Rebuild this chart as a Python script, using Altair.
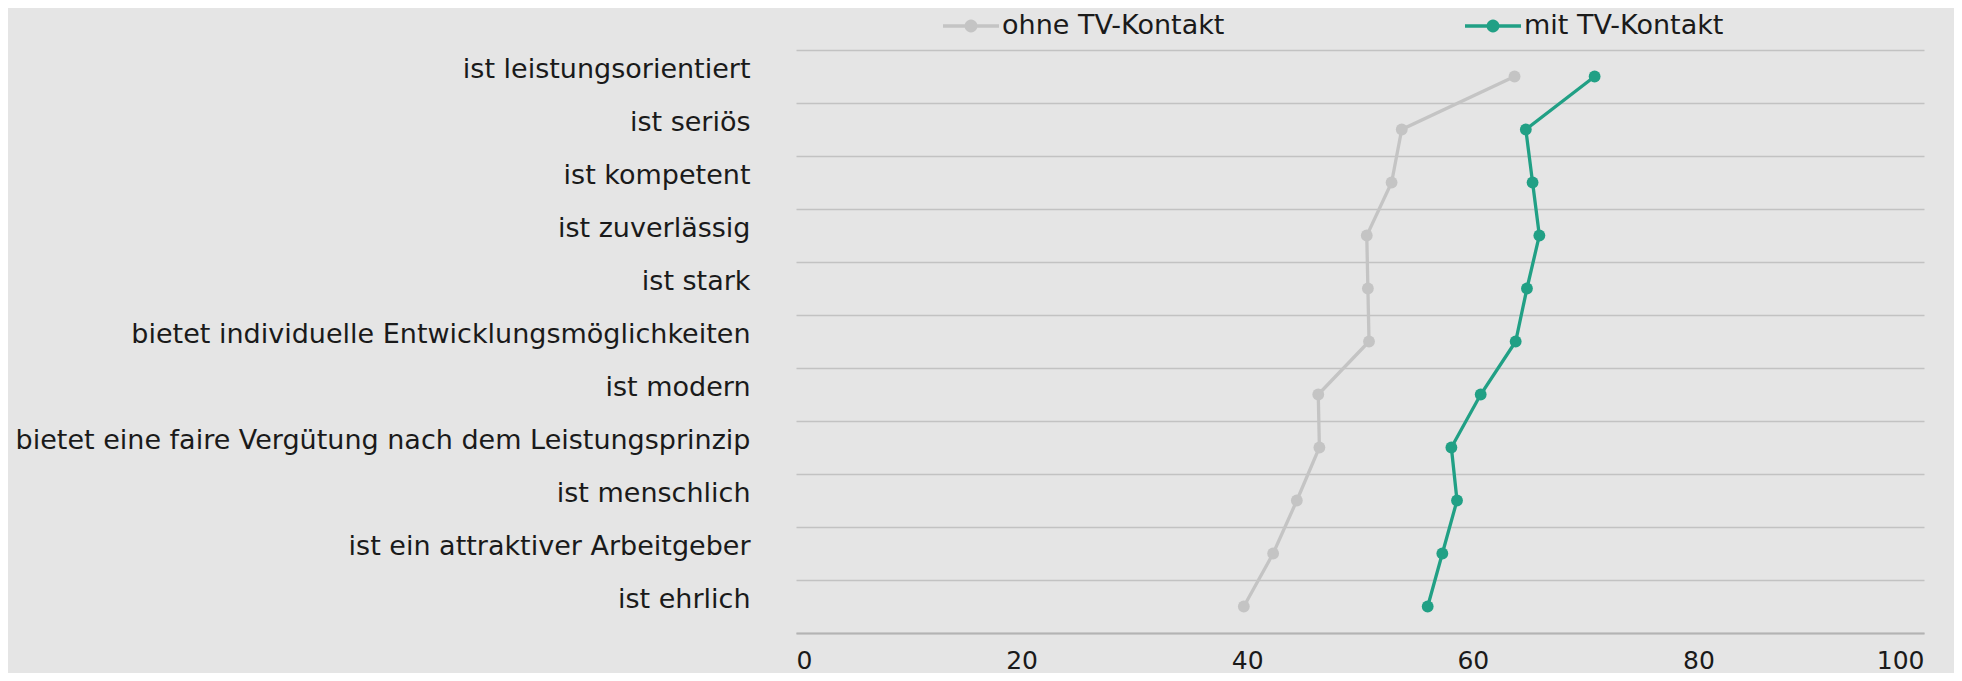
import math
import altair as alt
import pandas as pd

categories = [
    "ist leistungsorientiert",
    "ist seriös",
    "ist kompetent",
    "ist zuverlässig",
    "ist stark",
    "bietet individuelle Entwicklungsmöglichkeiten",
    "ist modern",
    "bietet eine faire Vergütung nach dem Leistungsprinzip",
    "ist menschlich",
    "ist ein attraktiver Arbeitgeber",
    "ist ehrlich",
]
ohne_tv = [63.7, 53.7, 52.8, 50.6, 50.7, 50.8, 46.3, 46.4, 44.4, 42.3, 39.7]
mit_tv = [70.8, 64.7, 65.3, 65.9, 64.8, 63.8, 60.7, 58.1, 58.6, 57.3, 56.0]
series_names = ["ohne TV-Kontakt", "mit TV-Kontakt"]
series_colors = ["#c4c4c4", "#21a085"]
x_ticks = [0, 20, 40, 60, 80, 100]

rows = []
for i, c in enumerate(categories):
    rows.append({"cat": c, "idx": i, "series": series_names[0], "value": ohne_tv[i]})
    rows.append({"cat": c, "idx": i, "series": series_names[1], "value": mit_tv[i]})
df = pd.DataFrame(rows)

FONT = "DejaVu Sans"
TXT = "#1a1a1a"

y_enc = alt.Y(
    "cat:N",
    sort=categories,
    scale=alt.Scale(type="band", domain=categories, paddingInner=0, paddingOuter=0),
    axis=alt.Axis(
        title=None,
        domain=False,
        ticks=False,
        tickSize=0,
        tickBand="extent",
        grid=True,
        gridColor="#c2c2c2",
        gridWidth=1.5,
        labelFont=FONT,
        labelFontSize=27,
        labelColor=TXT,
        labelPadding=46,
        labelOffset=-7,
        labelLimit=1000,
    ),
)
x_enc = alt.X(
    "value:Q",
    scale=alt.Scale(domain=[0, 100], nice=False),
    axis=alt.Axis(
        title=None,
        values=x_ticks,
        grid=False,
        ticks=False,
        domain=True,
        domainColor="#b3b3b3",
        domainWidth=2,
        labelFont=FONT,
        labelFontSize=25,
        labelColor=TXT,
        labelBaseline="alphabetic",
        labelPadding=35,
    ),
)

# legend glyph: a short line with a dot in the middle
rad = 0.23
circle_pts = [
    (rad * math.cos(2 * math.pi * k / 24), rad * math.sin(2 * math.pi * k / 24))
    for k in range(24)
]
legend_path = "M-1,-0.06L1,-0.06L1,0.06L-1,0.06Z M" + "L".join(
    f"{px:.4f},{py:.4f}" for px, py in circle_pts
) + "Z"

# one line layer per series (no colour legend on the lines)
line_layers = [
    alt.Chart(df)
    .transform_filter(alt.datum.series == name)
    .mark_line(strokeWidth=3.3, color=col)
    .encode(x=x_enc, y=y_enc, order=alt.Order("idx:Q"))
    for name, col in zip(series_names, series_colors)
]

points = alt.Chart(df).mark_circle(size=140, opacity=1).encode(
    x=x_enc,
    y=y_enc,
    color=alt.Color(
        "series:N",
        scale=alt.Scale(domain=series_names, range=series_colors),
        legend=alt.Legend(
            title=None,
            orient="none",
            direction="horizontal",
            legendX=146,
            legendY=-53,
            symbolType=legend_path,
            symbolSize=3136,
            symbolOpacity=1,
            labelFont=FONT,
            labelFontSize=27,
            labelColor=TXT,
            labelOffset=2,
            columnPadding=239,
            labelLimit=500,
        ),
    ),
)

chart = (
    alt.layer(*line_layers, points)
    .properties(
        width=1128,
        height=583,
        background="#e5e5e5",
        padding={"left": 788, "top": 42, "right": 30, "bottom": 40},
        autosize=alt.AutoSizeParams(type="none"),
    )
    .configure_view(stroke=None)
)

chart.save("out.html", embed_options={"renderer": "svg", "actions": False})
